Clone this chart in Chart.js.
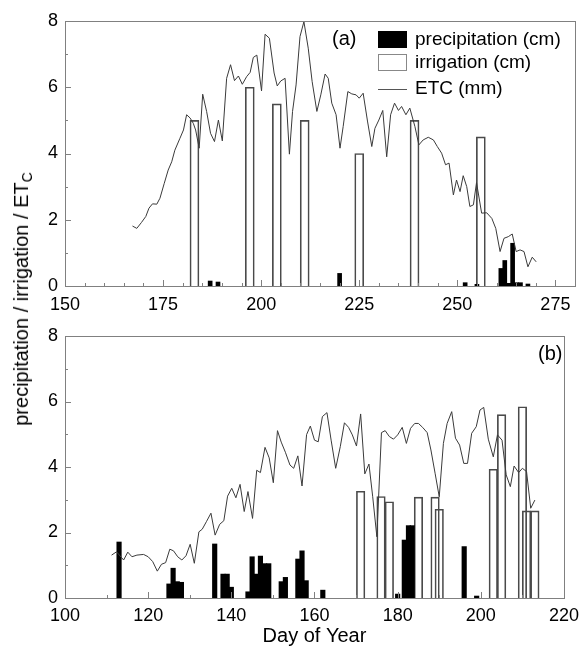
<!DOCTYPE html>
<html>
<head>
<meta charset="utf-8">
<script src="https://cdn.jsdelivr.net/npm/chart.js@4.4.1/dist/chart.umd.min.js"></script>
<style>
  html, body { margin: 0; padding: 0; background: #fff; }
  #wrap { position: relative; width: 586px; height: 652px; font-family: "Liberation Sans", Arial, sans-serif; color: #000; }
  #wrap canvas { position: absolute; left: 0; }
  #cA { top: 0; }
  #cB { top: 315px; }
  .ytitle { position: absolute; left: 21px; top: 299px; transform: translate(-50%, -50%) rotate(-90deg);
            white-space: nowrap; font-size: 20px; line-height: 1; }
  .ytitle sub { font-size: 14px; vertical-align: -4px; line-height: 0; }
  .tag { position: absolute; font-size: 20px; line-height: 1; }
  .legend { position: absolute; left: 378px; top: 29px; font-size: 19px; line-height: 1; }
  .legend div { position: relative; height: 23px; padding-left: 37px; white-space: nowrap; }
  .legend span.sw { position: absolute; left: 0; top: 2px; width: 29px; height: 17px; box-sizing: border-box; }
  .legend span.ln { position: absolute; left: 0; top: 11px; width: 29px; height: 0; border-top: 1px solid #555; }
</style>
</head>
<body>
<div id="wrap">
  <canvas id="cA" width="586" height="315"></canvas>
  <canvas id="cB" width="586" height="337"></canvas>
  <div class="ytitle">precipitation / irrigation / ET<sub>C</sub></div>
  <div class="tag" style="left:332px; top:28px;">(a)</div>
  <div class="tag" style="left:538px; top:343px;">(b)</div>
  <div class="legend">
    <div><span class="sw" style="background:#000;"></span>precipitation (cm)</div>
    <div><span class="sw" style="background:#fff; border:1px solid #888;"></span>irrigation (cm)</div>
    <div style="margin-top:3px;"><span class="ln"></span>ETC (mm)</div>
  </div>
</div>
<script>
// ---- panel (a) ----
const etcDaysA = [167.2, 168.3, 169.5, 170.6, 171.4, 172.3, 173.4, 174.2, 175.3, 176.3,
  177.2, 178, 179.3, 180.2, 181, 181.9, 182.7, 183.3, 184.2, 185.1,
  186.1, 187.1, 188.1, 189.1, 190.1, 191.2, 192.2, 193.2, 194.2, 195.2,
  196.3, 197.2, 198, 198.9, 200.1, 201, 202.1, 203.3, 204.1, 205,
  206.1, 207.2, 208, 208.9, 209.9, 210.9, 212, 213, 214.2, 215.2,
  216.3, 217.1, 218, 219.1, 220.1, 220.9, 222.1, 223.1, 224.2, 225,
  226, 227.1, 228.2, 229, 230, 231, 232, 233, 234, 235,
  235.8, 236.9, 237.9, 239.2, 240.2, 241.3, 242.6, 243.9, 244.9, 246,
  247, 247.9, 249, 249.8, 250.7, 251.5, 252.4, 253.2, 254.1, 254.9,
  256.2, 257.5, 258.8, 259.8, 260.9, 261.9, 263, 264, 265, 266,
  267, 268, 269.1, 270.1];
const etcA = [1.81, 1.74, 1.92, 2.1, 2.35, 2.48, 2.47, 2.65, 3.1, 3.5,
  3.75, 4.1, 4.46, 4.71, 5.17, 5.07, 4.91, 4.71, 4.16, 5.79,
  5.27, 4.61, 4.36, 5.01, 4.38, 6.27, 6.68, 6.2, 6.34, 6.09,
  6.32, 6.45, 6.9, 6.97, 5.89, 7.6, 7.48, 6.43, 6.04, 6.19,
  6.27, 3.98, 5.27, 6.07, 7.53, 7.98, 7.18, 6.17, 5.27, 5.77,
  6.4, 6.27, 5.52, 5.17, 4.16, 4.81, 5.87, 5.8, 5.77, 5.67,
  5.82, 4.98, 4.21, 4.76, 5.01, 5.3, 3.9, 5.17, 5.52, 5.3,
  5.42, 5.17, 5.37, 4.81, 4.26, 4.41, 4.49, 4.41, 4.21, 4.01,
  3.66, 3.71, 2.75, 3.2, 2.85, 3.33, 3.0, 2.4, 2.45, 3.12,
  2.2, 2.21, 2.04, 1.74, 1.04, 1.44, 1.49, 1.57, 1.04, 1.09,
  1.04, 0.58, 0.87, 0.73];
const precipDaysA = [187, 189, 220, 252, 255, 261.1, 262.1, 263.1, 264.1, 265.1, 266.1, 268];
const precipA = [0.15, 0.12, 0.38, 0.1, 0.05, 0.53, 0.77, 0.08, 1.29, 0.1, 0.1, 0.06];
const irrigDaysA = [183, 197.1, 204, 211.1, 225, 239.1, 256];
const irrigA = [5, 6, 5.5, 5, 4, 5, 4.5];

// ---- panel (b) ----
const etcDaysB = [111.2, 112.4, 114.1, 115.1, 116.1, 117.3, 118.9, 120, 121.1, 122.2,
  123.2, 124.2, 125.2, 126.1, 127.1, 128.1, 129.1, 130.1, 131.1, 132.2,
  133, 134, 135.1, 136.1, 137.2, 138.2, 139.1, 140.1, 141.1, 142.1,
  143.1, 144, 145.1, 146.1, 147, 148.1, 149.1, 150.1, 151.1, 152,
  153, 154.1, 155, 156, 157, 158.1, 159, 160, 160.9, 161.9,
  163, 164, 165.1, 166.2, 167.2, 168.2, 169.1, 170.1, 171.1, 172.1,
  173.1, 174, 175, 176.1, 177, 178, 179, 180, 181.1, 182.1,
  183.1, 184.1, 185, 186, 187.1, 188, 189, 190, 191, 191.9,
  193, 193.9, 194.9, 195.9, 196.8, 197.8, 198.9, 199.8, 200.7, 201.8,
  203, 204, 205.1, 206.1, 207.1, 208, 209.1, 210, 211, 212,
  213];
const etcB = [1.31, 1.41, 1.16, 1.4, 1.26, 1.31, 1.33, 1.26, 1.11, 0.82,
  1.03, 1.08, 1.49, 1.44, 1.26, 1.16, 1.29, 1.64, 1.06, 2.02,
  2.1, 2.33, 2.59, 1.92, 2.25, 2.36, 3.11, 3.35, 3.06, 3.47,
  2.64, 3.25, 2.43, 3.9, 3.83, 4.6, 4.28, 3.52, 5.11, 4.76,
  4.45, 4.06, 3.96, 4.34, 3.42, 4.99, 5.25, 4.82, 4.77, 5.54,
  5.66, 4.82, 3.96, 4.62, 5.35, 5.21, 4.98, 4.64, 5.62, 3.79,
  4.09, 3.09, 1.87, 5.05, 5.11, 4.93, 4.85, 4.98, 5.21, 4.72,
  5.18, 5.33, 5.33, 5.21, 5.05, 4.52, 3.81, 3.09, 4.72, 5.33,
  5.69, 4.88, 4.67, 4.11, 4.11, 5.03, 5.23, 5.74, 5.82, 4.85,
  4.31, 4.98, 4.82, 3.76, 3.4, 4.03, 3.83, 3.96, 3.86, 2.74,
  2.99];
const precipDaysB = [113, 125, 126, 127, 128, 136, 138, 139, 140, 144,
  145, 146, 147, 148, 149, 152, 153, 156, 157, 158,
  162, 180, 181.6, 182.6, 183.5, 196, 199];
const precipB = [1.71, 0.43, 0.91, 0.5, 0.48, 1.65, 0.73, 0.73, 0.33, 0.19,
  1.26, 0.73, 1.28, 1.05, 1.05, 0.5, 0.63, 1.19, 1.44, 0.53,
  0.24, 0.12, 1.77, 2.21, 2.21, 1.57, 0.06];
const irrigDaysB = [171.1, 176, 178, 185, 189, 190, 203, 205, 210, 211, 213];
const irrigB = [3.26, 3.1, 2.94, 3.08, 3.08, 2.71, 3.93, 5.6, 5.84, 2.66, 2.66];

const yTicks = [0, 2, 4, 6, 8];

Chart.defaults.font.family = '"Liberation Sans", Arial, sans-serif';
Chart.defaults.font.size = 18;
Chart.defaults.color = '#000';

const pts = (xs, ys) => xs.map((x, i) => ({ x: x, y: ys[i] }));

// frame box plus inward tick marks
const frameTicks = {
    id: 'frameTicks',
    afterDatasetsDraw(chart, args, opts) {
        const { ctx, chartArea: a, scales: { x, y } } = chart;
        ctx.save();
        ctx.strokeStyle = '#808080';
        ctx.lineWidth = 1;
        ctx.strokeRect(Math.round(a.left) + 0.5, Math.round(a.top) + 0.5,
            Math.round(a.right - a.left), Math.round(a.bottom - a.top));
        ctx.beginPath();
        for (let v = x.min; v <= x.max; v += opts.xMinor) {
            const px = Math.round(x.getPixelForValue(v)) + 0.5;
            const len = (v - x.min) % opts.xMajor === 0 ? 6 : 3;
            ctx.moveTo(px, a.bottom);
            ctx.lineTo(px, a.bottom - len);
        }
        for (let v = y.min; v <= y.max; v += 1) {
            const py = Math.round(y.getPixelForValue(v)) + 0.5;
            const len = v % 2 === 0 ? 6 : 3;
            ctx.moveTo(a.left, py);
            ctx.lineTo(a.left + len, py);
        }
        ctx.stroke();
        ctx.restore();
    }
};

function makePanel(id, cfg) {
    return new Chart(document.getElementById(id), {
        type: 'bar',
        data: {
            datasets: [
                {
                    type: 'line',
                    label: 'ETC (mm)',
                    data: pts(cfg.etcDays, cfg.etc),
                    borderColor: '#3a3a3a',
                    borderWidth: 1,
                    pointRadius: 0,
                    tension: 0,
                    order: 0
                },
                {
                    label: 'precipitation (cm)',
                    data: pts(cfg.precipDays, cfg.precip),
                    backgroundColor: '#000',
                    borderWidth: 0,
                    barThickness: cfg.precipWidth,
                    grouped: false,
                    order: 1
                },
                {
                    label: 'irrigation (cm)',
                    data: pts(cfg.irrigDays, cfg.irrig),
                    backgroundColor: 'rgba(255,255,255,0)',
                    borderColor: '#4a4a4a',
                    borderWidth: 1,
                    barThickness: cfg.irrigWidth,
                    grouped: false,
                    order: 2
                }
            ]
        },
        options: {
            responsive: false,
            animation: false,
            layout: { padding: { left: 0, right: cfg.padRight, top: 21, bottom: 0 } },
            plugins: {
                legend: { display: false },
                tooltip: { enabled: false },
                frameTicks: { xMinor: cfg.xMinor, xMajor: cfg.xMajor }
            },
            scales: {
                x: {
                    type: 'linear',
                    min: cfg.xMin,
                    max: cfg.xMax,
                    offset: false,
                    grid: { display: false, drawTicks: false },
                    border: { display: false },
                    afterFit: s => { s.height = cfg.xHeight; },
                    afterBuildTicks: s => {
                        s.ticks = cfg.xLabels.map(v => ({ value: v }));
                    },
                    ticks: { padding: cfg.xPad, maxRotation: 0, autoSkip: false },
                    title: cfg.xTitle ? {
                        display: true,
                        text: cfg.xTitle,
                        font: { size: 20 },
                        padding: { top: 0, bottom: 4 }
                    } : { display: false }
                },
                y: {
                    min: 0,
                    max: 8,
                    grid: { display: false, drawTicks: false },
                    border: { display: false },
                    afterFit: s => { s.width = 65; },
                    afterBuildTicks: s => {
                        s.ticks = yTicks.map(v => ({ value: v }));
                    },
                    ticks: { padding: 7 }
                }
            }
        },
        plugins: [frameTicks]
    });
}

makePanel('cA', {
    etcDays: etcDaysA, etc: etcA,
    precipDays: precipDaysA, precip: precipA,
    irrigDays: irrigDaysA, irrig: irrigA,
    precipWidth: 4, irrigWidth: 9,
    xMin: 150, xMax: 280, xMinor: 5, xMajor: 25,
    xLabels: [150, 175, 200, 225, 250, 275],
    xHeight: 29, xPad: 8, padRight: 11
});

makePanel('cB', {
    etcDays: etcDaysB, etc: etcB,
    precipDays: precipDaysB, precip: precipB,
    irrigDays: irrigDaysB, irrig: irrigB,
    precipWidth: 4.5, irrigWidth: 8.5,
    xMin: 100, xMax: 220, xMinor: 10, xMajor: 20,
    xLabels: [100, 120, 140, 160, 180, 200, 220],
    xHeight: 54, xPad: 7, padRight: 12,
    xTitle: 'Day of Year'
});
</script>
</body>
</html>
